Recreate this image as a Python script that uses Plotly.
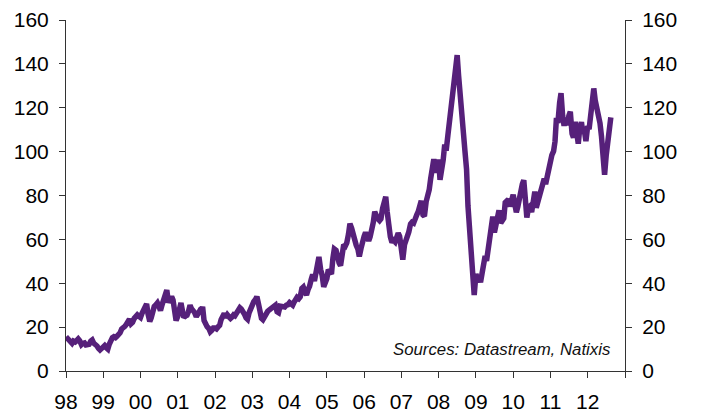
import pandas as pd
import plotly.graph_objects as go

# Brent price, semi-monthly readings (1st and 15th of each month), USD/bbl
brent_1998 = [15.6, 14.8, 13.6, 13.0, 12.6, 13.6, 13.2, 13.8, 14.6, 13.8, 12.0, 12.6,
              12.8, 11.9, 11.8, 12.2, 13.6, 14.1, 12.6, 12.2, 11.4, 10.4, 9.6, 10.2]
brent_1999 = [11.2, 11.6, 10.6, 10.0, 12.2, 13.8, 15.2, 15.6, 15.2, 15.8, 16.4, 17.4,
              19.2, 20.2, 20.4, 21.2, 22.6, 23.6, 21.6, 22.2, 24.0, 25.2, 25.6, 25.0]
brent_2000 = [24.4, 26.2, 27.8, 29.6, 30.6, 26.0, 22.6, 24.2, 27.2, 29.4, 30.2, 31.0,
              29.4, 27.6, 30.4, 32.2, 33.6, 36.9, 31.2, 32.4, 33.9, 32.4, 27.4, 23.0]
brent_2001 = [25.0, 29.0, 31.0, 27.6, 24.4, 25.0, 25.4, 27.0, 30.0, 28.4, 27.6, 26.6,
              24.8, 25.6, 27.2, 26.4, 29.3, 23.0, 21.0, 20.2, 19.4, 17.9, 18.6, 19.6]
brent_2002 = [19.6, 19.2, 20.2, 20.8, 23.4, 25.0, 26.2, 24.4, 25.6, 24.8, 24.0, 24.6,
              25.6, 25.2, 26.2, 27.2, 28.8, 28.2, 27.4, 26.0, 24.2, 23.6, 26.6, 28.8]
brent_2003 = [30.2, 31.6, 32.6, 33.9, 31.0, 26.0, 24.0, 23.4, 25.2, 26.6, 27.2, 27.8,
              28.4, 28.6, 29.2, 30.0, 27.0, 26.6, 29.6, 29.4, 28.8, 29.2, 30.0, 30.2]
brent_2004 = [31.2, 30.4, 30.0, 31.4, 32.8, 33.6, 33.0, 33.8, 37.6, 38.2, 36.0, 34.6,
              37.2, 38.6, 41.8, 44.0, 41.0, 44.6, 49.4, 52.0, 46.2, 43.8, 38.4, 40.2]
brent_2005 = [42.2, 46.2, 45.0, 44.2, 51.4, 55.6, 55.0, 51.6, 49.2, 48.0, 53.6, 57.6,
              57.0, 58.4, 62.4, 67.2, 65.0, 62.0, 59.0, 57.4, 55.6, 52.2, 55.8, 59.2]
brent_2006 = [61.4, 63.2, 60.2, 59.4, 61.2, 63.6, 67.8, 72.6, 70.2, 69.4, 68.6, 69.4,
              74.2, 75.8, 79.4, 72.6, 65.4, 61.2, 58.6, 59.6, 58.8, 60.2, 62.8, 61.4]
brent_2007 = [55.4, 50.8, 57.6, 59.2, 62.0, 63.4, 67.0, 67.8, 67.4, 70.4, 71.2, 72.6,
              76.8, 77.6, 71.2, 70.6, 77.2, 79.4, 82.6, 87.6, 92.8, 96.6, 90.4, 94.0]
brent_2008 = [96.4, 87.2, 91.4, 96.2, 103.2, 100.4, 107.4, 112.6, 121.8, 127.4, 133.2, 140.2,
              144.0, 134.6, 122.4, 113.4, 108.2, 100.4, 92.0, 75.2, 62.4, 52.2, 45.0, 34.6]
brent_2009 = [44.2, 42.0, 43.4, 40.4, 44.2, 49.2, 52.4, 50.2, 56.4, 60.8, 68.6, 70.4,
              63.2, 67.4, 72.4, 73.2, 67.4, 69.2, 69.6, 76.8, 77.4, 78.2, 75.0, 77.6]
brent_2010 = [80.4, 76.6, 72.4, 74.8, 78.6, 79.4, 85.2, 87.0, 79.6, 70.0, 74.6, 75.2,
              72.4, 76.6, 81.8, 74.4, 77.0, 79.6, 82.2, 83.4, 87.6, 85.2, 89.2, 92.4]
brent_2011 = [96.8, 98.4, 100.2, 104.6, 115.4, 113.0, 122.2, 126.6, 116.2, 111.8, 115.4, 112.0,
              116.4, 118.2, 108.2, 106.4, 113.6, 110.2, 103.6, 110.4, 113.4, 108.4, 109.2, 104.8]
brent_2012 = [111.6, 110.2, 117.4, 121.6, 128.8, 123.4, 120.2, 118.6, 113.0, 107.2, 98.2, 89.4,
              98.4, 104.6, 109.8, 115.6]

values = (brent_1998 + brent_1999 + brent_2000 + brent_2001 + brent_2002 + brent_2003 +
          brent_2004 + brent_2005 + brent_2006 + brent_2007 + brent_2008 + brent_2009 +
          brent_2010 + brent_2011 + brent_2012)
dates = pd.date_range("1998-01-01", periods=len(values), freq="SMS")

tick_years = list(range(1998, 2014))
tick_labels = ["98", "99", "00", "01", "02", "03", "04", "05", "06", "07",
               "08", "09", "10", "11", "12", ""]
y_ticks = [0, 20, 40, 60, 80, 100, 120, 140, 160]

line_color = "#56207a"
axis_color = "#333333"
font_family = "Liberation Sans, Arial, sans-serif"

fig = go.Figure()
fig.add_trace(go.Scatter(x=dates, y=values, mode="lines",
                         line=dict(color=line_color, width=5.5),
                         showlegend=False, hoverinfo="skip"))
fig.add_trace(go.Scatter(x=dates, y=values, mode="lines", yaxis="y2",
                         line=dict(color="rgba(0,0,0,0)", width=0),
                         showlegend=False, hoverinfo="skip"))

tickvals = [pd.Timestamp(f"{y}-01-01") for y in tick_years]

common = dict(ticks="outside", ticklen=6, tickcolor=axis_color,
              showline=True, linecolor=axis_color, linewidth=1,
              showgrid=False, zeroline=False, automargin=False,
              tickfont=dict(size=21))

# page body adds an 8px offset, so the figure is 8px smaller than the window
fig.update_layout(
    width=693, height=404,
    margin=dict(l=58, r=76, t=12, b=41),
    paper_bgcolor="white", plot_bgcolor="white",
    font=dict(family=font_family, size=21, color="#000000"),
    xaxis=dict(range=[pd.Timestamp("1998-01-01"), pd.Timestamp("2013-01-01")],
               tickvals=tickvals, ticktext=tick_labels, ticklabelstandoff=6, **common),
    yaxis=dict(range=[0, 160], tickvals=y_ticks, ticklabelstandoff=6, **common),
    yaxis2=dict(range=[0, 160], tickvals=y_ticks, overlaying="y", side="right",
                ticklabelstandoff=6, **common),
    annotations=[dict(text="<i>Sources: Datastream, Natixis</i>",
                      xref="paper", yref="paper", x=0.9785, y=0.061,
                      xanchor="right", yanchor="middle", showarrow=False,
                      font=dict(family=font_family, size=16.8, color="#111111"))],
)

fig.write_html("out.html")
